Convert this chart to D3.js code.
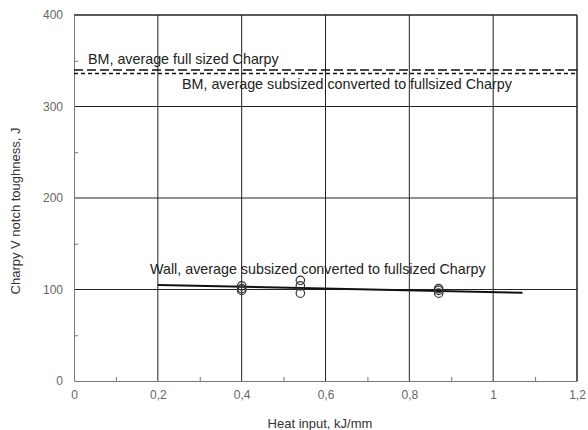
<!DOCTYPE html>
<html>
<head>
<meta charset="utf-8">
<script src="https://cdn.jsdelivr.net/npm/d3@7"></script>
<style>
  body { margin: 0; background: #fff; }
  svg { font-family: "Liberation Sans", Arial, sans-serif; }
</style>
</head>
<body>
<div class="content-container"></div>
<script>
// data
var xTicks = [0, 0.2, 0.4, 0.6, 0.8, 1, 1.2];
var yTicks = [0, 100, 200, 300, 400];
var heatInput = [0.4, 0.4, 0.4, 0.54, 0.54, 0.54, 0.87, 0.87, 0.87];
var toughness = [104, 101, 99, 110, 104, 96, 101, 99, 96];
var wallFitX = [0.2, 1.07];
var wallFitY = [105, 96.5];
var bmFull = 340;
var bmSubsized = 336;

const width = 588;
const height = 430;
const padLeft = 74, padRight = 577, padTop = 15, padBottom = 381;

const xScale = d3.scaleLinear().domain([0, 1.2]).range([padLeft, padRight]);
const yScale = d3.scaleLinear().domain([0, 400]).range([padBottom, padTop]);

const fmt = function(d) { return String(d).replace(".", ","); };

const chart = d3.select(".content-container")
  .append("svg")
  .attr("width", width)
  .attr("height", height);

// GRIDLINES
chart.append("g")
  .selectAll("line")
  .data(xTicks.filter(d => d > 0))
  .enter().append("line")
  .attr("x1", d => xScale(d)).attr("x2", d => xScale(d))
  .attr("y1", padTop).attr("y2", padBottom)
  .attr("stroke", "#222").attr("stroke-width", 1);

chart.append("g")
  .selectAll("line")
  .data(yTicks.filter(d => d > 0))
  .enter().append("line")
  .attr("x1", padLeft).attr("x2", padRight)
  .attr("y1", d => yScale(d)).attr("y2", d => yScale(d))
  .attr("stroke", "#222").attr("stroke-width", 1);

// AXES
const xAxis = d3.axisBottom(xScale).tickValues(xTicks).tickFormat(fmt).tickSize(0).tickPadding(9);
const gx = chart.append("g")
  .attr("transform", "translate(0," + padBottom + ")")
  .call(xAxis);
gx.select(".domain").attr("stroke", "#777");
gx.selectAll("text").attr("fill", "#666").style("font-size", "12px");
gx.attr("font-family", null);

const xMinor = d3.axisTop(xScale).tickValues([0.1, 0.3, 0.5, 0.7, 0.9, 1.1]).tickFormat("").tickSize(4);
const gxm = chart.append("g").attr("transform", "translate(0," + padBottom + ")").call(xMinor);
gxm.select(".domain").remove();
gxm.selectAll("line").attr("stroke", "#777");

const yAxis = d3.axisLeft(yScale).tickValues(yTicks).tickSize(0).tickPadding(11);
const gy = chart.append("g")
  .attr("transform", "translate(" + padLeft + ",0)")
  .call(yAxis);
gy.select(".domain").attr("stroke", "#777");
gy.selectAll("text").attr("fill", "#666").style("font-size", "12px");
gy.attr("font-family", null);

const yMinor = d3.axisRight(yScale).tickValues([50, 150, 250, 350]).tickFormat("").tickSize(4);
const gym = chart.append("g").attr("transform", "translate(" + padLeft + ",0)").call(yMinor);
gym.select(".domain").remove();
gym.selectAll("line").attr("stroke", "#777");

// frame top and right
chart.append("line")
  .attr("x1", padLeft).attr("x2", padRight)
  .attr("y1", yScale(400)).attr("y2", yScale(400))
  .attr("stroke", "#222");
chart.append("line")
  .attr("x1", xScale(1.2)).attr("x2", xScale(1.2))
  .attr("y1", padTop).attr("y2", padBottom)
  .attr("stroke", "#222");

// BM LINES
chart.append("line")
  .attr("x1", padLeft).attr("x2", padRight)
  .attr("y1", yScale(bmFull)).attr("y2", yScale(bmFull))
  .attr("stroke", "#111").attr("stroke-width", 1.5)
  .attr("stroke-dasharray", "9,4");
chart.append("line")
  .attr("x1", padLeft).attr("x2", padRight)
  .attr("y1", yScale(bmSubsized)).attr("y2", yScale(bmSubsized))
  .attr("stroke", "#111").attr("stroke-width", 1.5)
  .attr("stroke-dasharray", "4,3");

// WALL FIT LINE
const line = d3.line().x(d => xScale(d[0])).y(d => yScale(d[1]));
chart.append("path")
  .datum(d3.zip(wallFitX, wallFitY))
  .attr("d", line)
  .attr("fill", "none")
  .attr("stroke", "#111")
  .attr("stroke-width", 2);

// POINTS
chart.append("g")
  .selectAll("circle")
  .data(d3.zip(heatInput, toughness))
  .enter().append("circle")
  .attr("cx", d => xScale(d[0]))
  .attr("cy", d => yScale(d[1]))
  .attr("r", 4.2)
  .attr("fill", "none")
  .attr("stroke", "#333")
  .attr("stroke-width", 1.2);

// LABELS
chart.append("text")
  .attr("x", 88).attr("y", yScale(bmFull) - 6)
  .attr("fill", "#222").style("font-size", "14.3px")
  .text("BM, average full sized Charpy");

chart.append("text")
  .attr("x", 182).attr("y", yScale(bmSubsized) + 15)
  .attr("fill", "#222").style("font-size", "14.3px")
  .text("BM, average subsized converted to fullsized Charpy");

chart.append("text")
  .attr("x", 150).attr("y", yScale(wallFitY[0]) - 11)
  .attr("fill", "#222").style("font-size", "14.3px")
  .text("Wall, average subsized converted to fullsized Charpy");

// AXIS TITLES
chart.append("text")
  .attr("x", 320).attr("y", 428)
  .attr("text-anchor", "middle")
  .attr("fill", "#333").style("font-size", "13px")
  .text("Heat input, kJ/mm");

chart.append("text")
  .attr("transform", "translate(20," + 211 + ") rotate(-90)")
  .attr("text-anchor", "middle")
  .attr("fill", "#333").style("font-size", "13px")
  .text("Charpy V notch toughness, J");
</script>
</body>
</html>
